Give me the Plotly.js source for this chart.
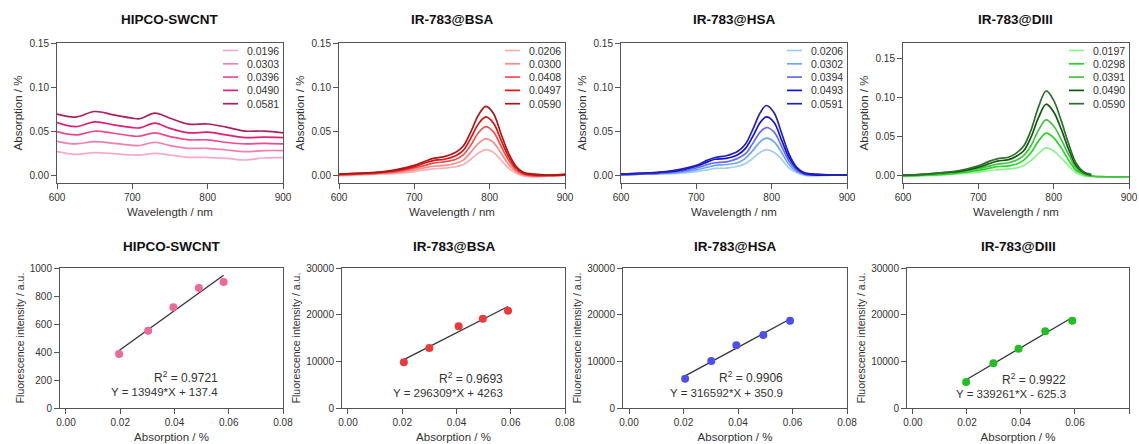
<!DOCTYPE html>
<html><head><meta charset="utf-8">
<script src="https://cdn.plot.ly/plotly-3.0.1.min.js"></script>
<style>html,body{margin:0;padding:0;background:#fff}#chart{width:1139px;height:444px}</style>
</head><body><div id="chart"></div>
<script>
// ---------- DATA ----------
const panelTitles = ['HIPCO-SWCNT', 'IR-783@BSA', 'IR-783@HSA', 'IR-783@DIII'];

// HIPCO-SWCNT absorption spectra
const wlHipco = [600, 625, 650, 675, 700, 710, 730, 750, 775, 800, 825, 850, 875, 900];
const hipcoLabels = ['0.0196', '0.0303', '0.0396', '0.0490', '0.0581'];
const hipco0196 = [0.0266, 0.0236, 0.0255, 0.0243, 0.0228, 0.0226, 0.0247, 0.0228, 0.0202, 0.0202, 0.0190, 0.0171, 0.0194, 0.0198];
const hipco0303 = [0.0384, 0.0354, 0.0380, 0.0361, 0.0338, 0.0336, 0.0373, 0.0335, 0.0304, 0.0304, 0.0285, 0.0266, 0.0278, 0.0278];
const hipco0396 = [0.0494, 0.0456, 0.0498, 0.0475, 0.0445, 0.0442, 0.0480, 0.0437, 0.0400, 0.0400, 0.0370, 0.0354, 0.0360, 0.0354];
const hipco0490 = [0.0597, 0.0551, 0.0605, 0.0570, 0.0540, 0.0536, 0.0590, 0.0530, 0.0480, 0.0487, 0.0456, 0.0426, 0.0430, 0.0426];
const hipco0581 = [0.0692, 0.0658, 0.0722, 0.0684, 0.0646, 0.0640, 0.0703, 0.0646, 0.0578, 0.0580, 0.0544, 0.0500, 0.0500, 0.0480];

// IR-783@BSA absorption spectra
const wlBSA = [600, 625, 650, 675, 700, 715, 725, 740, 755, 765, 775, 785, 795, 805, 815, 825, 835, 845, 860, 880, 900];
const bsaLabels = ['0.0206', '0.0300', '0.0408', '0.0497', '0.0590'];
const bsa0206 = [-0.001, 0.000, 0.001, 0.002, 0.004, 0.006, 0.007, 0.008, 0.0095, 0.012, 0.018, 0.025, 0.029, 0.026, 0.017, 0.008, 0.002, -0.001, -0.002, -0.001, 0.000];
const bsa0300 = [0.000, 0.001, 0.002, 0.003, 0.006, 0.0085, 0.010, 0.011, 0.0135, 0.017, 0.026, 0.036, 0.041, 0.037, 0.025, 0.012, 0.004, 0.000, -0.001, -0.001, 0.000];
const bsa0408 = [0.000, 0.001, 0.002, 0.004, 0.008, 0.011, 0.0135, 0.015, 0.018, 0.023, 0.034, 0.048, 0.055, 0.049, 0.033, 0.017, 0.006, 0.001, -0.001, -0.001, 0.000];
const bsa0497 = [0.001, 0.002, 0.003, 0.005, 0.0095, 0.014, 0.0165, 0.018, 0.022, 0.028, 0.042, 0.058, 0.066, 0.059, 0.040, 0.021, 0.008, 0.002, 0.000, 0.000, 0.000];
const bsa0590 = [0.001, 0.002, 0.003, 0.006, 0.011, 0.016, 0.019, 0.021, 0.026, 0.033, 0.049, 0.068, 0.078, 0.070, 0.047, 0.025, 0.010, 0.003, 0.001, 0.000, 0.001];

// IR-783@HSA absorption spectra
const wlHSA = [600, 625, 650, 675, 700, 715, 725, 740, 755, 765, 775, 785, 793, 803, 813, 823, 833, 843, 860, 880, 900];
const hsaLabels = ['0.0206', '0.0302', '0.0394', '0.0493', '0.0591'];
const hsa0206 = [0.000, 0.001, 0.001, 0.002, 0.004, 0.006, 0.0075, 0.008, 0.010, 0.013, 0.019, 0.026, 0.029, 0.026, 0.018, 0.008, 0.003, 0.000, -0.001, 0.000, 0.000];
const hsa0302 = [0.000, 0.001, 0.002, 0.003, 0.006, 0.009, 0.011, 0.012, 0.014, 0.019, 0.028, 0.038, 0.042, 0.038, 0.026, 0.012, 0.004, 0.001, 0.000, 0.000, 0.000];
const hsa0394 = [0.000, 0.001, 0.002, 0.004, 0.008, 0.012, 0.014, 0.015, 0.019, 0.024, 0.036, 0.049, 0.054, 0.049, 0.033, 0.016, 0.006, 0.001, 0.000, 0.000, 0.000];
const hsa0493 = [0.001, 0.002, 0.003, 0.005, 0.010, 0.015, 0.018, 0.019, 0.023, 0.030, 0.044, 0.060, 0.066, 0.060, 0.040, 0.020, 0.008, 0.002, 0.000, 0.000, 0.000];
const hsa0591 = [0.001, 0.002, 0.003, 0.006, 0.011, 0.017, 0.020, 0.022, 0.027, 0.035, 0.052, 0.071, 0.079, 0.071, 0.048, 0.024, 0.009, 0.003, 0.001, 0.000, 0.000];

// IR-783@DIII absorption spectra (two darkest traces stop at 850 nm)
const wlDIII = [600, 625, 650, 675, 700, 715, 725, 740, 750, 760, 770, 780, 790, 800, 810, 820, 830, 840, 850, 870, 900];
const diiiLabels = ['0.0197', '0.0298', '0.0391', '0.0490', '0.0590'];
const diii0197 = [-0.001, 0.000, 0.001, 0.003, 0.005, 0.007, 0.008, 0.009, 0.010, 0.013, 0.020, 0.029, 0.036, 0.032, 0.023, 0.013, 0.004, 0.000, -0.001, -0.001, -0.001];
const diii0298 = [0.000, 0.001, 0.002, 0.004, 0.007, 0.010, 0.012, 0.013, 0.015, 0.020, 0.030, 0.045, 0.055, 0.049, 0.036, 0.020, 0.007, 0.002, 0.000, -0.001, -0.001];
const diii0391 = [0.000, 0.001, 0.003, 0.005, 0.009, 0.013, 0.015, 0.017, 0.020, 0.026, 0.039, 0.059, 0.072, 0.064, 0.047, 0.027, 0.010, 0.003, 0.000, -0.001, -0.001];
const diii0490 = [0.001, 0.002, 0.004, 0.006, 0.011, 0.016, 0.019, 0.021, 0.025, 0.032, 0.050, 0.075, 0.092, 0.082, 0.060, 0.034, 0.013, 0.004, 0.001];
const diii0590 = [0.001, 0.002, 0.004, 0.007, 0.013, 0.019, 0.022, 0.024, 0.029, 0.038, 0.059, 0.089, 0.109, 0.097, 0.071, 0.041, 0.016, 0.005, 0.002];

// Fluorescence vs absorption
const hipcoFluo = [386, 552, 719, 857, 900];
const bsaFluo = [9786, 12857, 17500, 19143, 20857];
const hsaFluo = [6286, 10071, 13429, 15643, 18714];
const diiiFluo = [5571, 9571, 12714, 16429, 18714];

// Linear fit line end points (x = first / last absorption)
const hipcoFitY = [411, 948];
const bsaFitY = [10367, 21745];
const hsaFitY = [6873, 19062];
const diiiFitY = [6058, 19391];

const r2Texts = ['R<sup>2</sup> = 0.9721', 'R<sup>2</sup> = 0.9693', 'R<sup>2</sup> = 0.9906', 'R<sup>2</sup> = 0.9922'];
const eqTexts = ['Y = 13949*X + 137.4', 'Y = 296309*X + 4263', 'Y = 316592*X + 350.9', 'Y = 339261*X - 625.3'];

// ---------- STYLE ----------
const hipcoColors = ['#f8a9c9', '#f47fae', '#ed4a93', '#dc1f77', '#ab2062'];
const bsaColors = ['#f9b0b0', '#f68e8e', '#f14e4e', '#e31010', '#a81818'];
const hsaColors = ['#a5ccf6', '#69a8f3', '#6868f0', '#1010e0', '#2222b0'];
const diiiColors = ['#8ef38e', '#22d822', '#44c044', '#0b5a0b', '#2e6d2e'];
const dotColors = ['#f0679a', '#ec3a3a', '#4d50ee', '#20c020'];

const W = 1139, H = 444;
const FONT = 'Liberation Sans, Arial, sans-serif';
const topX = [[57, 283], [339, 565], [621, 847], [903, 1129]];
const botX = [[60, 283], [342, 565], [623, 847], [907, 1129]];
const topY = [43, 183], botY = [268, 408];
const px = v => v / W, py = v => 1 - v / H;

const spectra = [
  {wl: wlHipco, labels: hipcoLabels, ys: [hipco0196, hipco0303, hipco0396, hipco0490, hipco0581], colors: hipcoColors, ymax: 0.15},
  {wl: wlBSA, labels: bsaLabels, ys: [bsa0206, bsa0300, bsa0408, bsa0497, bsa0590], colors: bsaColors, ymax: 0.15},
  {wl: wlHSA, labels: hsaLabels, ys: [hsa0206, hsa0302, hsa0394, hsa0493, hsa0591], colors: hsaColors, ymax: 0.15},
  {wl: wlDIII, labels: diiiLabels, ys: [diii0197, diii0298, diii0391, diii0490, diii0590], colors: diiiColors, ymax: 0.1705}
];
const fluo = [
  {labels: hipcoLabels, y: hipcoFluo, fit: hipcoFitY, ymax: 1000, dtick: 200},
  {labels: bsaLabels, y: bsaFluo, fit: bsaFitY, ymax: 30000, dtick: 10000},
  {labels: hsaLabels, y: hsaFluo, fit: hsaFitY, ymax: 30000, dtick: 10000},
  {labels: diiiLabels, y: diiiFluo, fit: diiiFitY, ymax: 30000, dtick: 10000}
];

const traces = [];
const layout = {
  width: W, height: H, margin: {l: 0, r: 0, t: 0, b: 0},
  paper_bgcolor: '#fff', plot_bgcolor: '#fff', showlegend: false,
  font: {family: FONT, color: '#333', size: 10},
  annotations: [], shapes: []
};

function axisBase() {
  return {
    showgrid: false, zeroline: false, showline: true, linecolor: '#555', linewidth: 1,
    mirror: true, ticks: 'outside', ticklen: 5, tickwidth: 1, tickcolor: '#555',
    tickfont: {family: FONT, size: 10, color: '#333'}, fixedrange: true
  };
}

spectra.forEach((p, i) => {
  const n = i + 1, xa = 'x' + n, ya = 'y' + n;
  p.ys.forEach((ys, k) => {
    traces.push({
      type: 'scatter', mode: 'lines', x: p.wl.slice(0, ys.length), y: ys, name: p.labels[k],
      xaxis: xa, yaxis: ya, line: {color: p.colors[k], width: 1.7, shape: 'spline', smoothing: 1}
    });
  });
  layout['xaxis' + (n === 1 ? '' : n)] = Object.assign(axisBase(), {
    domain: [px(topX[i][0]), px(topX[i][1])], anchor: ya, range: [600, 900],
    tickvals: [600, 700, 800, 900],
    title: {text: 'Wavelength / nm', font: {family: FONT, size: 11.5, color: '#333'}, standoff: 5}
  });
  layout['yaxis' + (n === 1 ? '' : n)] = Object.assign(axisBase(), {
    domain: [py(topY[1]), py(topY[0])], anchor: xa, range: [-0.009, p.ymax],
    tickvals: [0, 0.05, 0.10, 0.15], tickformat: '.2f',
    title: {text: 'Absorption / %', font: {family: FONT, size: 11.5, color: '#333'}, standoff: 4}
  });
  // panel title
  layout.annotations.push({xref: 'paper', yref: 'paper', x: px((topX[i][0] + topX[i][1]) / 2), y: py(20),
    text: '<b>' + panelTitles[i] + '</b>', showarrow: false, xanchor: 'center', yanchor: 'middle',
    font: {family: FONT, size: 13.5, color: '#111'}});
  // legend (short line + label)
  const right = topX[i][1];
  p.labels.forEach((lab, k) => {
    const yc = 50.5 + k * 13.3;
    layout.shapes.push({type: 'line', xref: 'paper', yref: 'paper', x0: px(right - 60), x1: px(right - 45),
      y0: py(yc), y1: py(yc), line: {color: p.colors[k], width: 1.7}});
    layout.annotations.push({xref: 'paper', yref: 'paper', x: px(right - 38), y: py(yc), text: lab,
      showarrow: false, xanchor: 'left', yanchor: 'middle', font: {family: FONT, size: 10.5, color: '#333'}});
  });
});

fluo.forEach((p, i) => {
  const n = i + 5, xa = 'x' + n, ya = 'y' + n;
  const xs = p.labels.map(Number);
  traces.push({
    type: 'scatter', mode: 'lines', x: [xs[0], xs[xs.length - 1]], y: p.fit,
    xaxis: xa, yaxis: ya, line: {color: '#333', width: 1.3}
  });
  traces.push({
    type: 'scatter', mode: 'markers', x: xs, y: p.y, xaxis: xa, yaxis: ya,
    marker: {color: dotColors[i], size: 8, line: {width: 0}}
  });
  layout['xaxis' + n] = Object.assign(axisBase(), {
    domain: [px(botX[i][0]), px(botX[i][1])], anchor: ya, range: [-0.0022, 0.08],
    tickvals: [0, 0.02, 0.04, 0.06, 0.08], tickformat: '.2f',
    title: {text: 'Absorption / %', font: {family: FONT, size: 11.5, color: '#333'}, standoff: 5}
  });
  layout['yaxis' + n] = Object.assign(axisBase(), {
    domain: [py(botY[1]), py(botY[0])], anchor: xa, range: [0, p.ymax], dtick: p.dtick, tickformat: 'd',
    title: {text: 'Fluorescence intensity / a.u.', font: {family: FONT, size: 10.5, color: '#333'}, standoff: 3}
  });
  layout.annotations.push({xref: 'paper', yref: 'paper', x: px((botX[i][0] + botX[i][1]) / 2), y: py(246),
    text: '<b>' + panelTitles[i] + '</b>', showarrow: false, xanchor: 'center', yanchor: 'middle',
    font: {family: FONT, size: 13.5, color: '#111'}});
});

const r2Right = [220, 505, 785, 1068];
const r2Y = [377, 377.5, 377, 379];
const eqY = [392, 393, 392.5, 394];
r2Texts.forEach((t, i) => {
  layout.annotations.push({xref: 'paper', yref: 'paper', x: px(r2Right[i]), y: py(r2Y[i]), text: t,
    showarrow: false, xanchor: 'right', yanchor: 'middle', font: {family: FONT, size: 12, color: '#333'}});
  layout.annotations.push({xref: 'paper', yref: 'paper', x: px(r2Right[i]), y: py(eqY[i]), text: eqTexts[i],
    showarrow: false, xanchor: 'right', yanchor: 'middle', font: {family: FONT, size: 11.5, color: '#333'}});
});

Plotly.newPlot('chart', traces, layout, {displayModeBar: false, staticPlot: true});
</script></body></html>
